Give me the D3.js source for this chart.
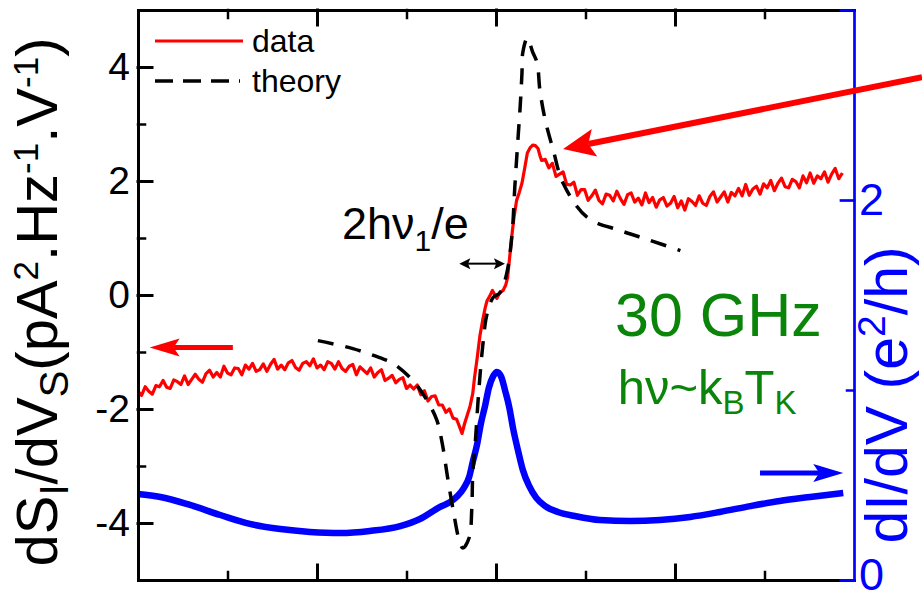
<!DOCTYPE html>
<html>
<head>
<meta charset="utf-8">
<script src="https://cdn.jsdelivr.net/npm/d3@7"></script>
<style>
  body { margin: 0; background: #fff; }
  svg { display: block; }
  text { font-family: "Liberation Sans", Arial, Helvetica, sans-serif; }
</style>
</head>
<body>
<svg id="chart" width="922" height="599"></svg>
<script>
// ---- measured noise derivative dS_I/dV_S (left axis, pA^2.Hz^-1.V^-1) ----
const dataBias = [
  -4.00,-3.96,-3.92,-3.88,-3.84,-3.80,-3.76,-3.72,-3.68,-3.64,-3.60,-3.56,-3.52,-3.48,-3.44,-3.40,
  -3.36,-3.32,-3.28,-3.24,-3.20,-3.16,-3.12,-3.08,-3.04,-3.00,-2.96,-2.92,-2.88,-2.84,-2.80,-2.76,
  -2.72,-2.68,-2.64,-2.60,-2.56,-2.52,-2.48,-2.44,-2.40,-2.36,-2.32,-2.28,-2.24,-2.20,-2.16,-2.12,
  -2.08,-2.04,-2.00,-1.96,-1.92,-1.88,-1.84,-1.80,-1.76,-1.72,-1.68,-1.64,-1.60,-1.56,-1.52,-1.48,
  -1.44,-1.40,-1.36,-1.32,-1.28,-1.24,-1.20,-1.16,-1.12,-1.08,-1.04,-1.00,-0.96,-0.92,-0.88,-0.84,
  -0.80,-0.76,-0.72,-0.68,-0.64,-0.60,-0.56,-0.52,-0.48,-0.44,
  -0.41,-0.38,-0.35,-0.32,-0.29,-0.26,-0.24,-0.21,-0.18,-0.15,-0.12,-0.10,-0.07,-0.04,-0.02,0.01,
  0.04,0.08,0.11,0.13,0.15,0.18,0.20,0.23,0.26,0.29,0.32,0.35,0.38,0.41,0.44,0.47,0.49,0.51,
  0.55,0.59,0.63,0.67,0.71,0.75,0.79,0.83,0.87,0.91,0.95,0.99,1.03,1.07,1.11,1.15,
  1.19,1.23,1.27,1.31,1.35,1.39,1.43,1.47,1.51,1.55,1.59,1.63,1.67,1.71,1.75,1.79,
  1.83,1.87,1.91,1.95,1.99,2.03,2.07,2.11,2.15,2.19,2.23,2.27,2.31,2.35,2.39,2.43,
  2.47,2.51,2.55,2.59,2.63,2.67,2.71,2.75,2.79,2.83,2.87,2.91,2.95,2.99,3.03,3.07,
  3.11,3.15,3.19,3.23,3.27,3.31,3.35,3.39,3.43,3.47,3.51,3.55,3.59,3.63,3.67,3.71,
  3.75,3.79,3.83,3.87
];
const dataNoise = [
  -1.69,-1.76,-1.61,-1.69,-1.74,-1.59,-1.61,-1.50,-1.62,-1.64,-1.49,-1.52,-1.57,-1.42,-1.57,-1.48,
  -1.39,-1.48,-1.53,-1.38,-1.32,-1.44,-1.36,-1.44,-1.25,-1.37,-1.40,-1.28,-1.29,-1.40,-1.23,-1.30,
  -1.20,-1.34,-1.31,-1.21,-1.34,-1.22,-1.13,-1.30,-1.23,-1.31,-1.19,-1.15,-1.27,-1.32,-1.20,-1.17,
  -1.24,-1.12,-1.28,-1.23,-1.31,-1.17,-1.20,-1.30,-1.17,-1.29,-1.34,-1.25,-1.22,-1.40,-1.26,-1.32,
  -1.38,-1.28,-1.44,-1.36,-1.31,-1.50,-1.46,-1.41,-1.54,-1.48,-1.45,-1.64,-1.58,-1.65,-1.58,-1.75,
  -1.68,-1.86,-1.78,-1.77,-1.93,-1.93,-2.06,-2.00,-2.16,-2.18,
  -2.30,-2.43,-2.25,-2.10,-1.95,-1.73,-1.45,-1.10,-0.72,-0.45,-0.22,-0.10,-0.02,0.08,0.02,-0.06,
  0.04,0.08,0.18,0.31,0.62,1.08,1.35,1.66,1.80,1.96,2.22,2.49,2.58,2.63,2.62,2.57,2.45,2.36,
  2.38,2.23,2.31,2.08,2.12,2.16,1.94,1.93,1.98,1.75,1.85,1.85,1.66,1.74,1.84,1.66,
  1.60,1.77,1.75,1.65,1.82,1.69,1.59,1.76,1.79,1.63,1.70,1.58,1.79,1.62,1.71,1.54,
  1.67,1.71,1.56,1.61,1.73,1.53,1.65,1.49,1.69,1.64,1.57,1.74,1.61,1.57,1.73,1.81,
  1.63,1.72,1.81,1.63,1.80,1.74,1.87,1.74,1.94,1.75,1.86,1.91,1.77,1.95,1.88,2.01,
  1.83,1.96,2.05,1.90,1.88,2.03,1.99,1.88,2.09,1.97,2.14,1.96,2.09,2.04,2.16,1.98,
  2.12,2.22,2.04,2.14
];

// ---- theoretical curve (left axis) ----
const theoryBias = [
  -1.99,-1.60,-1.30,-1.15,-0.93,-0.77,-0.66,-0.60,-0.54,-0.48,-0.41,-0.37,-0.30,-0.27,-0.26,-0.23,
  -0.20,-0.15,-0.10,-0.03,0.045,0.12,0.18,0.21,0.25,0.27,0.29,0.30,0.35,0.41,0.46,0.49,
  0.55,0.64,0.75,1.02,1.39,1.72,2.06
];
const theoryNoise = [
  -0.80,-0.94,-1.10,-1.20,-1.50,-1.85,-2.20,-2.61,-3.21,-3.76,-4.31,-4.44,-4.26,-3.73,-3.14,-2.56,
  -1.85,-0.92,-0.33,-0.04,0.04,0.38,1.08,1.89,2.84,3.30,3.89,4.26,4.51,4.26,4.07,3.60,
  3.07,2.54,1.96,1.36,1.13,0.96,0.78
];

// ---- differential conductance dI/dV (right axis, e^2/h) ----
const condBias = [
  -4.00,-3.75,-3.42,-3.08,-2.75,-2.41,-2.08,-1.74,-1.41,-1.07,-0.85,-0.63,-0.51,-0.43,-0.36,-0.30,
  -0.26,-0.21,-0.17,-0.12,-0.08,-0.03,0.01,0.06,0.10,0.15,0.19,0.25,0.30,0.37,0.45,0.55,
  0.69,0.88,1.16,1.50,1.83,2.17,2.50,2.84,3.17,3.51,3.88
];
const condValue = [
  0.453,0.437,0.395,0.342,0.295,0.268,0.253,0.247,0.258,0.284,0.321,0.384,0.411,0.442,0.484,0.542,
  0.621,0.716,0.821,0.921,1.011,1.074,1.095,1.068,1.000,0.905,0.800,0.674,0.579,0.495,0.432,0.389,
  0.358,0.337,0.316,0.311,0.316,0.332,0.358,0.389,0.416,0.437,0.458
];

// ---- axis ticks ----
const leftMajor = [-4, -2, 0, 2, 4];
const leftMinor = [-3, -1, 1, 3];
const rightMajor = [0, 2];
const rightMinor = [1];
const biasMajor = [-2, 0, 2];
const biasMinor = [-3, -1, 1, 3];

const RED = "#ff0000", BLUE = "#0000ff", GREEN = "#0a850a";

const svg = d3.select("#chart");
const box = { left: 138, right: 854, top: 10, bottom: 580 };

const x = d3.scaleLinear().domain([-4, 4]).range([box.left, box.right]);
const yL = d3.scaleLinear().domain([-5, 5]).range([box.bottom, box.top]);
const yR = d3.scaleLinear().domain([0, 3]).range([box.bottom, box.top]);

// ---- curves ----
const zipped = (xs, ys) => xs.map((v, i) => [v, ys[i]]);

svg.append("path")
  .datum(zipped(dataBias, dataNoise))
  .attr("fill", "none").attr("stroke", RED).attr("stroke-width", 3.2)
  .attr("stroke-linejoin", "round")
  .attr("d", d3.line().x(d => x(d[0])).y(d => yL(d[1])));

svg.append("path")
  .datum(zipped(condBias, condValue))
  .attr("fill", "none").attr("stroke", BLUE).attr("stroke-width", 6.5)
  .attr("stroke-linejoin", "round")
  .attr("d", d3.line().curve(d3.curveMonotoneX).x(d => x(d[0])).y(d => yR(d[1])));

svg.append("path")
  .datum(zipped(theoryBias, theoryNoise))
  .attr("fill", "none").attr("stroke", "#000").attr("stroke-width", 3.5)
  .attr("stroke-dasharray", "16,12")
  .attr("d", d3.line().curve(d3.curveCatmullRom).x(d => x(d[0])).y(d => yL(d[1])));

// ---- axes ----
function styleAxis(g, color, width) {
  g.selectAll("path, line").attr("stroke", color).attr("stroke-width", width)
    .attr("stroke-linecap", "square");
}

// bottom / top (no labels)
[[box.bottom, d3.axisBottom], [box.top, d3.axisTop]].forEach(([yPos, gen]) => {
  const major = svg.append("g").attr("transform", `translate(0,${yPos})`)
    .call(gen(x).tickValues(biasMajor).tickSizeInner(-15).tickSizeOuter(0).tickFormat(""));
  styleAxis(major, "#000", 3);
  const minor = svg.append("g").attr("transform", `translate(0,${yPos})`)
    .call(gen(x).tickValues(biasMinor).tickSizeInner(-8).tickSizeOuter(0).tickFormat(""));
  minor.select(".domain").remove();
  styleAxis(minor, "#000", 2.5);
});

// left axis
const leftG = svg.append("g").attr("transform", `translate(${box.left},0)`)
  .call(d3.axisLeft(yL).tickValues(leftMajor).tickSizeInner(-14).tickSizeOuter(0)
    .tickPadding(8).tickFormat(d => String(d)));
styleAxis(leftG, "#000", 3);
leftG.selectAll("text").attr("font-size", 39).attr("fill", "#000")
  .style("font-family", '"Liberation Sans", Arial, sans-serif');
const leftMinorG = svg.append("g").attr("transform", `translate(${box.left},0)`)
  .call(d3.axisLeft(yL).tickValues(leftMinor).tickSizeInner(-7).tickSizeOuter(0).tickFormat(""));
leftMinorG.select(".domain").remove();
styleAxis(leftMinorG, "#000", 2.5);

// right axis (conductance)
const rightG = svg.append("g").attr("transform", `translate(${box.right},0)`)
  .call(d3.axisRight(yR).tickValues(rightMajor).tickSizeInner(-13).tickSizeOuter(-13)
    .tickPadding(5).tickFormat(d => String(d)));
styleAxis(rightG, BLUE, 2.7);
rightG.selectAll("text").attr("font-size", 45).attr("fill", BLUE)
  .style("font-family", '"Liberation Sans", Arial, sans-serif');
rightG.selectAll("text").filter(d => d === 0).attr("dy", "0.2em");
const rightMinorG = svg.append("g").attr("transform", `translate(${box.right},0)`)
  .call(d3.axisRight(yR).tickValues(rightMinor).tickSizeInner(-7).tickSizeOuter(0).tickFormat(""));
rightMinorG.select(".domain").remove();
styleAxis(rightMinorG, BLUE, 2.5);

// ---- axis titles ----
const leftTitle = svg.append("text")
  .attr("transform", "translate(57,302) rotate(-90)")
  .attr("text-anchor", "middle").attr("font-size", 58).attr("fill", "#000");
leftTitle.append("tspan").text("dS");
leftTitle.append("tspan").attr("font-size", 40).attr("dy", 11).text("I");
leftTitle.append("tspan").attr("dy", -11).text("/dV");
leftTitle.append("tspan").attr("font-size", 40).attr("dy", 11).text("S");
leftTitle.append("tspan").attr("dy", -11).text("(pA");
leftTitle.append("tspan").attr("font-size", 35).attr("dy", -19).text("2");
leftTitle.append("tspan").attr("dy", 19).text(".Hz");
leftTitle.append("tspan").attr("font-size", 35).attr("dy", -19).text("-1");
leftTitle.append("tspan").attr("dy", 19).text(".V");
leftTitle.append("tspan").attr("font-size", 35).attr("dy", -19).text("-1");
leftTitle.append("tspan").attr("dy", 19).text(")");

const rightTitle = svg.append("text")
  .attr("transform", "translate(907,395) rotate(-90)")
  .attr("text-anchor", "middle").attr("font-size", 59).attr("fill", BLUE);
rightTitle.append("tspan").text("dI/dV (e");
rightTitle.append("tspan").attr("font-size", 39).attr("dy", -22).text("2");
rightTitle.append("tspan").attr("dy", 22).text("/h)");

// ---- legend ----
const legend = svg.append("g");
legend.append("line").attr("x1", 155).attr("x2", 243).attr("y1", 41).attr("y2", 41)
  .attr("stroke", RED).attr("stroke-width", 3);
legend.append("text").attr("x", 252).attr("y", 52).attr("font-size", 32).text("data");
legend.append("line").attr("x1", 155).attr("x2", 240).attr("y1", 81).attr("y2", 81)
  .attr("stroke", "#000").attr("stroke-width", 3.5).attr("stroke-dasharray", "18,10");
legend.append("text").attr("x", 252).attr("y", 92).attr("font-size", 32).text("theory");

// ---- arrows ----
function arrow(x1, y1, x2, y2, o) {
  const dx = x2 - x1, dy = y2 - y1, L = Math.hypot(dx, dy), ux = dx / L, uy = dy / L;
  const head = (tx, ty, sx, sy) => {
    const bx = tx - sx * o.len, by = ty - sy * o.len;
    const nx = tx - sx * o.len * 0.8, ny = ty - sy * o.len * 0.8;
    return `M${tx},${ty}L${bx - sy * o.half},${by + sx * o.half}L${nx},${ny}L${bx + sy * o.half},${by - sx * o.half}Z`;
  };
  const sx = o.double ? x1 + ux * o.len * 0.8 : x1, sy = o.double ? y1 + uy * o.len * 0.8 : y1;
  svg.append("line").attr("x1", sx).attr("y1", sy)
    .attr("x2", x2 - ux * o.len * 0.8).attr("y2", y2 - uy * o.len * 0.8)
    .attr("stroke", o.color).attr("stroke-width", o.width);
  svg.append("path").attr("d", head(x2, y2, ux, uy)).attr("fill", o.color);
  if (o.double) svg.append("path").attr("d", head(x1, y1, -ux, -uy)).attr("fill", o.color);
}

// left axis pointer, right axis pointer, peak pointer
arrow(x(-2.94), yL(-0.92), x(-3.87), yL(-0.92), { len: 30, half: 9, width: 5, color: RED });
arrow(x(2.95), yR(0.563), x(3.88), yR(0.563), { len: 30, half: 9, width: 5, color: BLUE });
arrow(x(4.76), yL(3.82), x(0.75), yL(2.56), { len: 32, half: 14, width: 6, color: RED });
// 2hν1/e width marker
arrow(x(-0.41), yL(0.55), x(0.10), yL(0.55), { len: 11, half: 5.5, width: 2, color: "#000", double: true });

// ---- annotations ----
const lab = svg.append("text").attr("x", x(-1.72)).attr("y", yL(0.99)).attr("font-size", 45).attr("fill", "#000");
lab.append("tspan").text("2hν");
lab.append("tspan").attr("font-size", 30).attr("dy", 12).text("1");
lab.append("tspan").attr("dy", -12).text("/e");

svg.append("text").attr("x", x(1.33)).attr("y", yL(-0.72)).attr("font-size", 61)
  .attr("fill", GREEN).text("30 GHz");
const hv = svg.append("text").attr("x", x(1.36)).attr("y", yL(-1.91)).attr("font-size", 49).attr("fill", GREEN);
hv.append("tspan").text("hν~k");
hv.append("tspan").attr("font-size", 33).attr("dy", 10).text("B");
hv.append("tspan").attr("dy", -10).text("T");
hv.append("tspan").attr("font-size", 33).attr("dy", 10).text("K");
</script>
</body>
</html>
